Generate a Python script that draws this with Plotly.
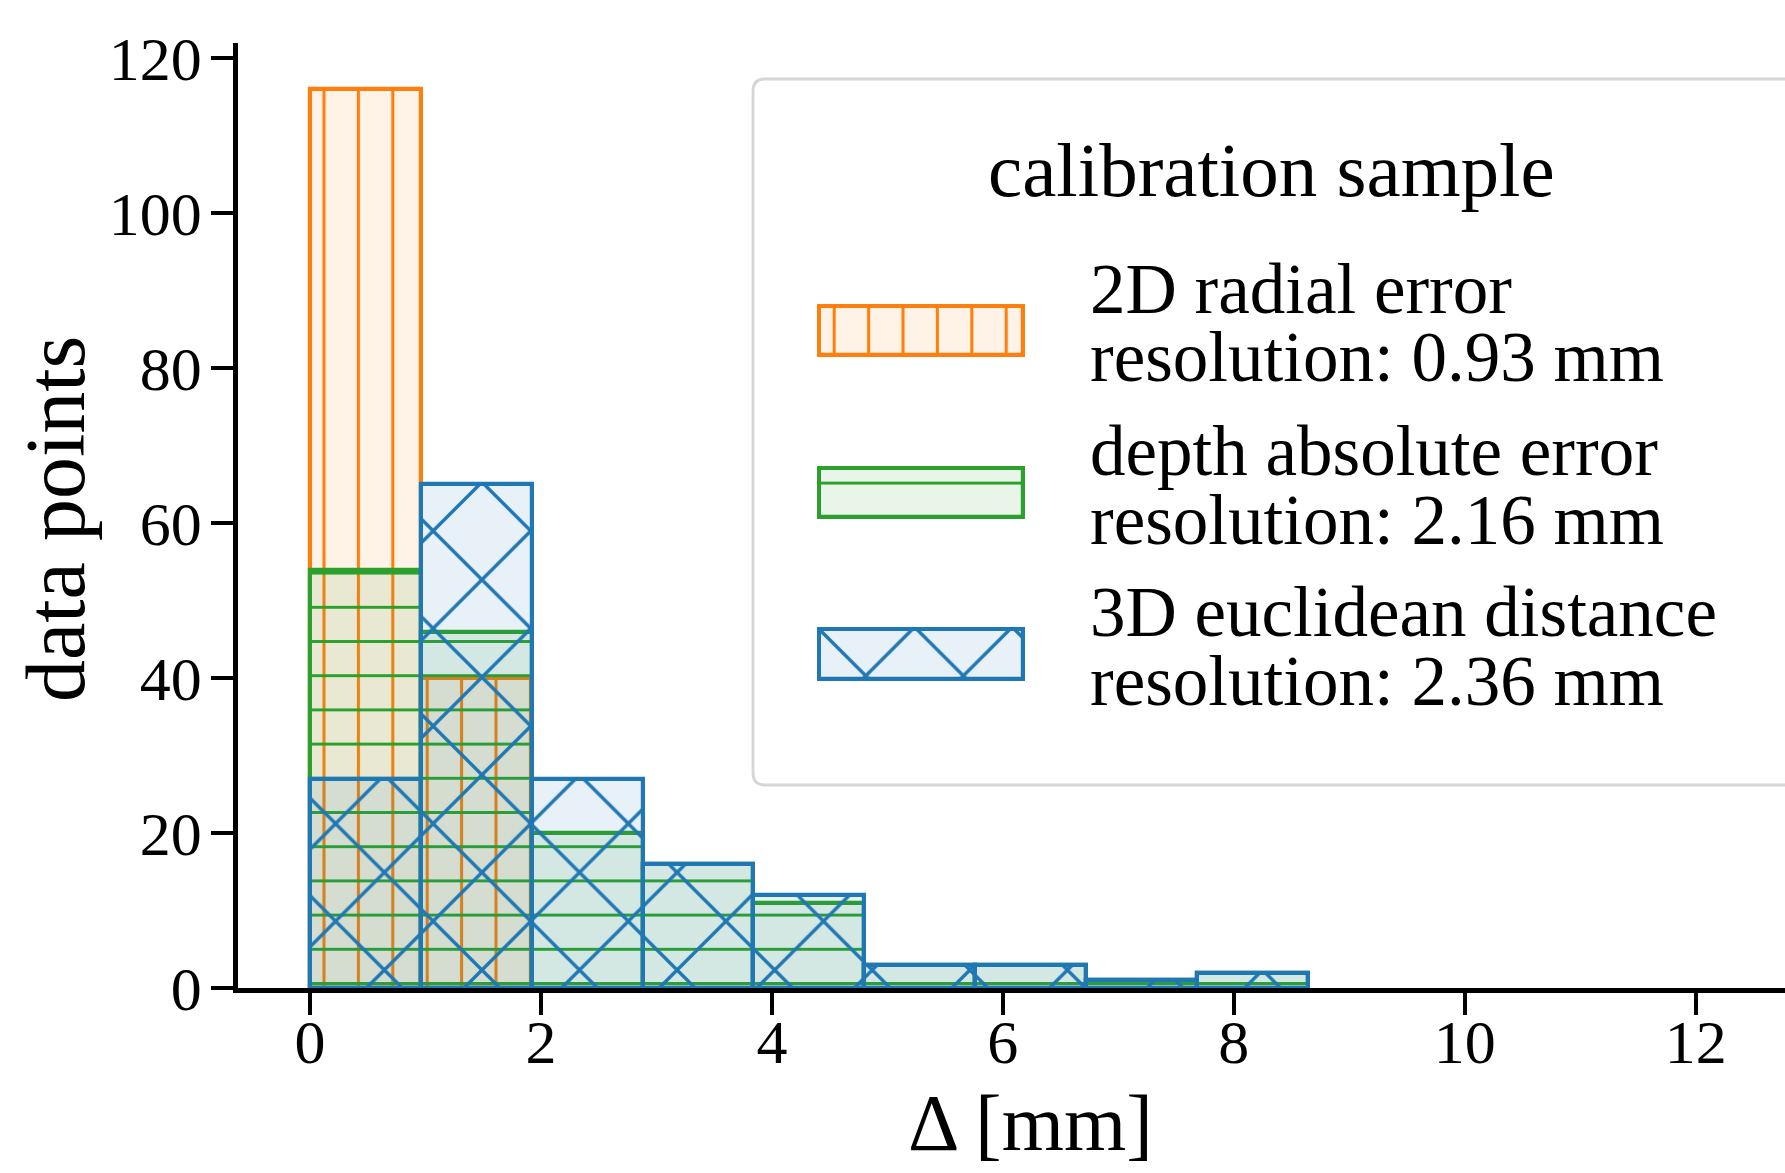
import plotly.graph_objects as go

# ---------------- data ----------------
bin_centers = [0.48, 1.44, 2.40, 3.36, 4.32, 5.28, 6.24, 7.20, 8.16]
bin_width = 0.96
radial_2d_counts = [116, 40]                              # 2D radial error (first two bins)
depth_abs_counts = [54, 46, 20, 16, 11, 3, 3, 1, 2]       # depth absolute error
eucl_3d_counts = [27, 65, 27, 16, 12, 3, 3, 1, 2]         # 3D euclidean distance
series_names = ["2D radial error", "depth absolute error", "3D euclidean distance"]
resolutions_mm = ["0.93", "2.16", "2.36"]
x_ticks = [0, 2, 4, 6, 8, 10, 12]
y_ticks = [0, 20, 40, 60, 80, 100, 120]

# ---------------- styling ----------------
W, H = 1785, 1173
ML, MR, MT, MB = 238, 0, 43, 185
PW, PH = W - ML - MR, H - MT - MB
FONT = "Liberation Serif"
ORANGE, GREEN, BLUE = "#ff7f0e", "#2ca02c", "#1f77b4"
ORANGE_F, GREEN_F, BLUE_F = "rgba(255,127,14,0.1)", "rgba(44,160,44,0.1)", "rgba(31,119,180,0.1)"
EDGE_W = 4.2


def px(x):
    return (x - ML) / PW


def py(y):
    return (H - MB - y) / PH


def pattern(shape, color, fill, size, solidity):
    return dict(shape=shape, fgcolor=color, fgopacity=1, bgcolor=fill,
                size=size, solidity=solidity, fillmode="replace")


styles = [
    dict(color=ORANGE, fill=ORANGE_F, pat=pattern("|", ORANGE, ORANGE_F, 34.4, 0.09)),
    dict(color=GREEN, fill=GREEN_F, pat=pattern("-", GREEN, GREEN_F, 34.2, 0.09)),
    dict(color=BLUE, fill=BLUE_F, pat=pattern("x", BLUE, BLUE_F, 69, 0.095)),
]

fig = go.Figure()

all_counts = [radial_2d_counts, depth_abs_counts, eucl_3d_counts]
for name, counts, st in zip(series_names, all_counts, styles):
    fig.add_trace(go.Bar(
        x=bin_centers[:len(counts)], y=counts, width=bin_width, name=name,
        marker=dict(color=st["fill"], line=dict(color=st["color"], width=EDGE_W),
                    pattern=st["pat"]),
        showlegend=False, hoverinfo="skip", xaxis="x", yaxis="y",
    ))

# ---------------- manual legend ----------------
leg_left, leg_top, leg_bottom, r = 753, 79, 785, 12
leg_right = 1800
path = (f"M{px(leg_left + r)},{py(leg_top)} L{px(leg_right)},{py(leg_top)} "
        f"L{px(leg_right)},{py(leg_bottom)} L{px(leg_left + r)},{py(leg_bottom)} "
        f"Q{px(leg_left)},{py(leg_bottom)} {px(leg_left)},{py(leg_bottom - r)} "
        f"L{px(leg_left)},{py(leg_top + r)} Q{px(leg_left)},{py(leg_top)} {px(leg_left + r)},{py(leg_top)} Z")
shapes = [dict(type="path", xref="paper", yref="paper", path=path,
               line=dict(color="#d6d6d6", width=2.8), fillcolor="rgba(0,0,0,0)", layer="above")]

swatch_x = (817, 1025)
swatch_y = [(304, 357.5), (466, 519), (627, 681)]
layout_axes = {}
for i, (st, (y0, y1)) in enumerate(zip(styles, swatch_y)):
    n = i + 2
    fig.add_trace(go.Bar(
        x=[0.5], y=[1], width=1, base=0,
        marker=dict(color=st["fill"], line=dict(color=st["color"], width=EDGE_W), pattern=st["pat"]),
        showlegend=False, hoverinfo="skip", xaxis=f"x{n}", yaxis=f"y{n}",
    ))
    layout_axes[f"xaxis{n}"] = dict(domain=[px(swatch_x[0]), px(swatch_x[1])], range=[-0.011, 1.011],
                                    visible=False, anchor=f"y{n}", fixedrange=True)
    layout_axes[f"yaxis{n}"] = dict(domain=[py(y1), py(y0)], range=[-0.042, 1.042],
                                    visible=False, anchor=f"x{n}", fixedrange=True)

LEG_FS = 71
TITLE_FS = 77
annotations = [
    dict(text="calibration sample", x=px(1271), y=py(196 - 0.3375 * TITLE_FS), xref="paper", yref="paper",
         xanchor="center", yanchor="middle", showarrow=False, font=dict(family=FONT, size=TITLE_FS, color="black")),
]
baselines = [(313, 381), (475, 544), (636, 705)]
for name, res, (b1, b2) in zip(series_names, resolutions_mm, baselines):
    for txt, b in ((name, b1), (f"resolution: {res} mm", b2)):
        annotations.append(dict(text=txt, x=px(1088), y=py(b - 0.3375 * LEG_FS), xref="paper", yref="paper",
                                xanchor="left", yanchor="middle", showarrow=False,
                                font=dict(family=FONT, size=LEG_FS, color="black")))

# axis titles
AX_FS = 80
annotations.append(dict(text="Δ [mm]", x=px(1030), y=py(1150 - 0.3375 * AX_FS), xref="paper", yref="paper",
                        xanchor="center", yanchor="middle", showarrow=False,
                        font=dict(family=FONT, size=AX_FS, color="black")))
annotations.append(dict(text="data points", x=px(55), y=py(519), xref="paper", yref="paper",
                        xanchor="center", yanchor="middle", showarrow=False, textangle=-90,
                        font=dict(family=FONT, size=AX_FS + 4, color="black")))

x_px_per_unit = 115.47
y_px_per_unit = 7.75
x0 = -(310 - ML) / x_px_per_unit
x1 = x0 + PW / x_px_per_unit
y1 = PH / y_px_per_unit

fig.update_layout(
    width=W, height=H,
    margin=dict(l=ML, r=MR, t=MT, b=MB, pad=0),
    paper_bgcolor="white", plot_bgcolor="rgba(0,0,0,0)",
    barmode="overlay", bargap=0, hovermode=False,
    font=dict(family=FONT, color="black"),
    xaxis=dict(range=[x0, x1], tickvals=x_ticks, ticktext=[str(v) for v in x_ticks],
               showline=True, linecolor="black", linewidth=4.5, ticks="outside", ticklen=22, tickwidth=4,
               tickcolor="black", showgrid=False, zeroline=False, tickfont=dict(family=FONT, size=62, color="black"),
               ticklabelstandoff=-26, fixedrange=True, anchor="y"),
    yaxis=dict(range=[0, y1], tickvals=y_ticks, ticktext=[str(v) for v in y_ticks],
               showline=True, linecolor="black", linewidth=4.5, ticks="outside", ticklen=22, tickwidth=4,
               tickcolor="black", showgrid=False, zeroline=False, tickfont=dict(family=FONT, size=62, color="black"),
               ticklabelstandoff=-3, fixedrange=True, anchor="x"),
    shapes=shapes, annotations=annotations,
    **layout_axes,
)

fig.write_html("out.html")
